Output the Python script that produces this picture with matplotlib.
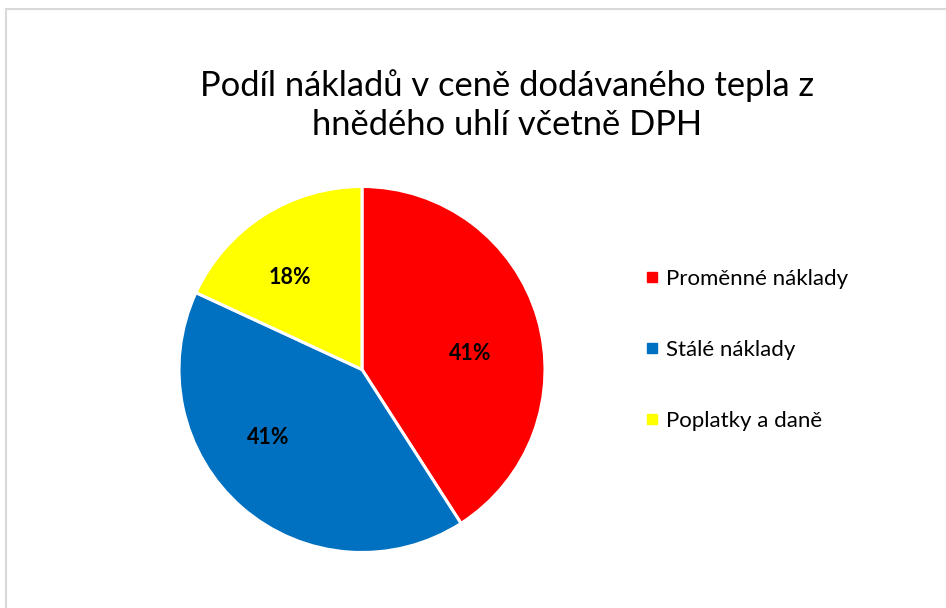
import matplotlib
matplotlib.use('Agg')
import matplotlib.pyplot as plt
from matplotlib.lines import Line2D
from matplotlib.patches import Rectangle

TITLE = 'Podíl nákladů v ceně dodávaného tepla z\nhnědého uhlí včetně DPH'
labels = ['Proměnné náklady', 'Stálé náklady', 'Poplatky a daně']
shares = [40.9, 41.0, 18.1]
colors = ['#FF0000', '#0070C0', '#FFFF00']
# data-label spots (fraction of radius), as Excel's best-fit put them
label_xy = [(0.59, 0.09), (-0.515, -0.37), (-0.395, 0.505)]

plt.rcParams['font.family'] = ['Lato', 'DejaVu Sans']

W, H = 946, 608
fig = plt.figure(figsize=(W / 100, H / 100), dpi=100)

# light grey chart-area frame (runs off the right/bottom edge)
fig.patches.append(Rectangle((6 / W, -0.05), 1.0, 1 - 9 / H + 0.05,
                             transform=fig.transFigure, fill=False,
                             edgecolor='#D9D9D9', lw=1.5))

cx, cy, r = 362, 369.5, 183
ax = fig.add_axes([(cx - r) / W, (H - cy - r) / H, 2 * r / W, 2 * r / H])
wedges, _, pcts = ax.pie(shares, colors=colors, startangle=90, counterclock=False,
                         autopct='%.0f%%', pctdistance=0.62, radius=1.0,
                         wedgeprops=dict(edgecolor='white', linewidth=2.2),
                         textprops=dict(fontsize=15.5, fontweight='bold', color='black'))
for t, xy in zip(pcts, label_xy):
  t.set_position(xy)
ax.set_xlim(-1, 1); ax.set_ylim(-1, 1)
ax.set_aspect('equal')
ax.axis('off')

fig.text(507 / W, 1 - 105 / H, TITLE, ha='center', va='center',
         fontsize=24.8, linespacing=1.28)

handles = [Line2D([], [], ls='', marker='s', markersize=7.5, color=c) for c in colors]
fig.legend(handles, labels, loc='center left',
           bbox_to_anchor=(624 / W, 1 - 350 / H), frameon=False,
           fontsize=16, labelspacing=2.3, handlelength=0.7, handletextpad=0.3)

fig.savefig('out.png', dpi=100)
